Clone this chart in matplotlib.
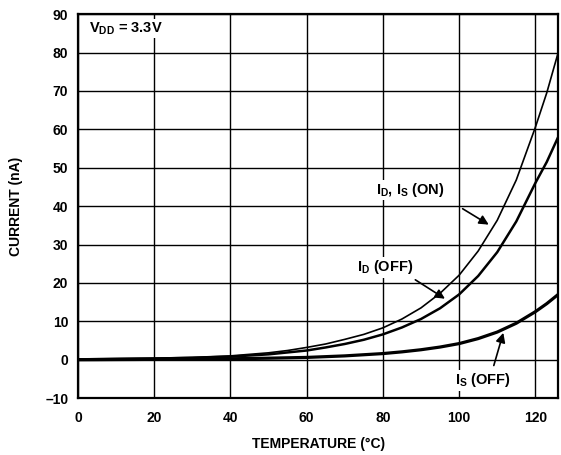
import numpy as np
import matplotlib
matplotlib.use("Agg")
import matplotlib.pyplot as plt

plt.rcParams['font.family'] = ['Liberation Sans', 'DejaVu Sans']
plt.rcParams['font.weight'] = 'bold'
plt.rcParams['mathtext.fontset'] = 'custom'
plt.rcParams['mathtext.rm'] = 'Liberation Sans:bold'
plt.rcParams['mathtext.it'] = 'Liberation Sans:bold'
plt.rcParams['mathtext.bf'] = 'Liberation Sans:bold'

# temperature (C) and leakage currents (nA)
temp = [0, 5, 10, 15, 20, 25, 30, 35, 40, 45, 50, 55, 60, 65, 70, 75, 80,
        85, 90, 95, 100, 105, 110, 115, 120, 123, 126]
i_on = [0.2, 0.25, 0.3, 0.35, 0.4, 0.5, 0.6, 0.8, 1.0, 1.4, 1.8, 2.4, 3.2, 4.1,
        5.3, 6.6, 8.3, 10.6, 13.5, 17.3, 22, 28.3, 36.3, 46.8, 60.5, 69.5, 80]
i_d_off = [0.1, 0.15, 0.2, 0.25, 0.3, 0.4, 0.5, 0.65, 0.8, 1.1, 1.4, 1.9, 2.4, 3.2,
           4.1, 5.2, 6.6, 8.4, 10.6, 13.4, 17, 21.8, 28, 36, 46, 51.5, 58]
i_s_off = [0.0, 0.02, 0.05, 0.07, 0.1, 0.12, 0.15, 0.2, 0.25, 0.32, 0.4, 0.5, 0.6, 0.8,
           1.0, 1.3, 1.6, 2.05, 2.6, 3.3, 4.2, 5.5, 7.2, 9.5, 12.5, 14.6, 17]

xticks = [0, 20, 40, 60, 80, 100, 120]
yticks = [-10, 0, 10, 20, 30, 40, 50, 60, 70, 80, 90]

fig = plt.figure(figsize=(5.61, 4.55), dpi=100)
ax = fig.add_axes([0.139, 0.125, 0.856, 0.844])

ax.plot(temp, i_on, color='black', lw=1.2, solid_joinstyle='round')
ax.plot(temp, i_d_off, color='black', lw=1.8, solid_joinstyle='round')
ax.plot(temp, i_s_off, color='black', lw=2.3, solid_joinstyle='round')

ax.set_xlim(0, 126)
ax.set_ylim(-10, 90)
ax.set_xticks(xticks)
ax.set_yticks(yticks)
ax.set_yticklabels(['\u201310'] + [str(v) for v in yticks[1:]])
ax.tick_params(length=0, labelsize=10, pad=7)
ax.tick_params(axis='x', pad=9)
ax.grid(True, color='black', lw=1.0)
for s in ax.spines.values():
    s.set_linewidth(1.6)

ax.set_xlabel('TEMPERATURE (\u00b0C)', fontsize=10, fontweight='bold', labelpad=9)
ax.set_ylabel('CURRENT (nA)', fontsize=10, fontweight='bold', labelpad=16)

fs = 10.5
ax.text(3, 86.3, r'V$_{\mathrm{DD}}$ = 3.3V', fontsize=fs, va='center', ha='left',
        bbox=dict(facecolor='white', edgecolor='none', pad=1))

ax.text(87.1, 44.2, r'I$_{\mathrm{D}}$, I$_{\mathrm{S}}$ (ON)', fontsize=fs, ha='center', va='center',
        bbox=dict(facecolor='white', edgecolor='none', pad=1))
ax.annotate('', xy=(108.4, 34.8), xytext=(100.3, 39.7),
            arrowprops=dict(arrowstyle='-|>', color='black', lw=1.2, mutation_scale=14))

ax.text(80.6, 24.1, r'I$_{\mathrm{D}}$ (OFF)', fontsize=fs, ha='center', va='center',
        bbox=dict(facecolor='white', edgecolor='none', pad=1))
ax.annotate('', xy=(96.9, 15.5), xytext=(87.9, 21.2),
            arrowprops=dict(arrowstyle='-|>', color='black', lw=1.2, mutation_scale=14))

ax.text(106.3, -5.3, r'I$_{\mathrm{S}}$ (OFF)', fontsize=fs, ha='center', va='center',
        bbox=dict(facecolor='white', edgecolor='none', pad=1))
ax.annotate('', xy=(111.8, 7.7), xytext=(108.9, -2.2),
            arrowprops=dict(arrowstyle='-|>', color='black', lw=1.2, mutation_scale=14))

fig.savefig('out.png', dpi=100)
